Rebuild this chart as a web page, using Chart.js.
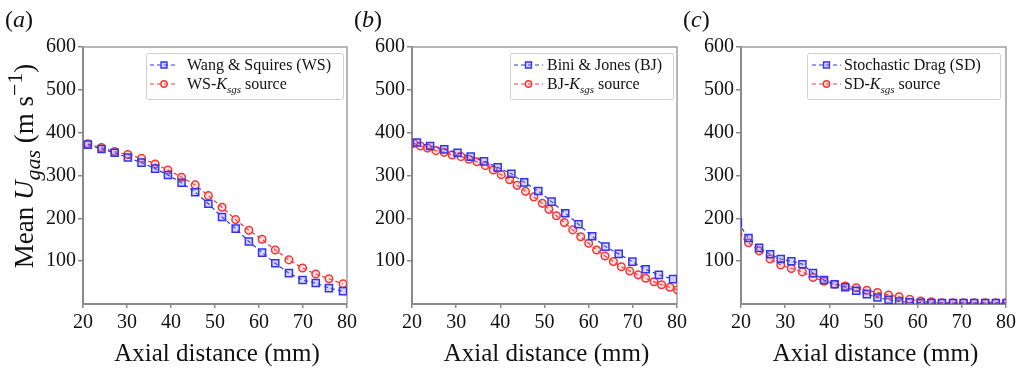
<!DOCTYPE html>
<html><head><meta charset="utf-8">
<script src="https://cdn.jsdelivr.net/npm/chart.js@4/dist/chart.umd.min.js"></script>
<style>
html,body{margin:0;padding:0;background:#fff;}
#wrap{position:relative;width:1022px;height:368px;overflow:hidden;background:#fff;}
canvas{position:absolute;left:0;top:0;width:1022px;height:368px;}
</style></head><body>
<div id="wrap">
<canvas id="ca" width="1022" height="368"></canvas>
<canvas id="cb" width="1022" height="368"></canvas>
<canvas id="cc" width="1022" height="368"></canvas>
</div>
<script>
// ---------- data ----------
const xTicks = [20, 30, 40, 50, 60, 70, 80];
const yTicks = [100, 200, 300, 400, 500, 600];

// panel (a)
const xA     = [21.1, 24.2, 27.2, 30.2, 33.3, 36.4, 39.3, 42.4, 45.5, 48.5, 51.6, 54.7, 57.7, 60.7, 63.7, 66.8, 69.9, 72.9, 75.9, 79.1];
const wsVals = [372, 362, 353, 342, 330, 316, 301, 283, 261, 234, 203, 176, 146, 120, 95, 72, 56, 49, 37, 30];
const wsKVals= [374, 365, 356, 349, 340, 327, 313, 296, 278, 253, 226, 197, 172, 151, 126, 103, 84, 70, 59, 47];

// panel (b)
const xB     = [21.1, 24.1, 27.3, 30.3, 33.3, 36.3, 39.4, 42.5, 45.4, 48.6, 51.6, 54.7, 57.7, 60.8, 63.8, 66.8, 69.9, 72.9, 75.9, 79.1];
const bjVals = [377, 369, 361, 353, 344, 333, 319, 304, 284, 264, 239, 212, 186, 158, 134, 117, 99, 81, 68, 58];
const xBK    = [20.4, 21.9, 23.5, 25.4, 27.3, 29.1, 31.1, 32.9, 34.7, 36.6, 38.4, 40.2, 42.1, 43.8, 45.7, 47.6, 49.5, 51.0, 52.7, 54.5, 56.4, 58.2, 60.0, 61.8, 63.7, 65.6, 67.4, 69.3, 71.2, 72.9, 74.8, 76.5, 78.4, 80.1];
const bjKVals= [375, 369, 364, 358, 354, 348, 344, 338, 332, 323, 313, 302, 290, 277, 263, 250, 235, 221, 206, 190, 173, 157, 142, 126, 112, 99, 87, 77, 68, 60, 52, 45, 39, 33];

// panel (c)
const xC     = [19.3, 21.7, 24.1, 26.6, 29.0, 31.4, 33.9, 36.3, 38.8, 41.2, 43.6, 46.1, 48.5, 50.9, 53.4, 55.8, 58.2, 60.7, 63.1, 65.5, 68.0, 70.4, 72.8, 75.3, 77.7, 80.1];
const sdVals = [190, 154, 131, 116, 105, 100, 93, 72, 56, 46, 39, 31, 23, 15, 10, 6, 4, 3, 2, 2, 2, 2, 2, 2, 2, 2];
const sdKVals= [163, 143, 124, 105, 91, 83, 75, 62, 53, 46, 42, 38, 32, 27, 21, 17, 11, 7, 5, 3, 3, 3, 3, 3, 3, 3];

// ---------- styles ----------
const SERIF = '"Liberation Serif", "Times New Roman", serif';
const BLUE = '#3434f0', BLUE_F = 'rgba(110,110,255,0.28)';
const RED  = '#f03838', RED_F  = 'rgba(255,110,110,0.22)';
const blueStyle = {color: BLUE, fill: BLUE_F, pointStyle: 'rect', radius: 5};
const redStyle  = {color: RED,  fill: RED_F,  pointStyle: 'circle', radius: 3.8};

const panels = [
  {id:'ca', left:83, right:347, tag:'a', tagX:5,
   legend:{x0:146, x1:343, lineX0:150, lineX1:178, textX:187},
   series:[
     {x:xA, y:wsVals,  st:blueStyle, label:[{t:'Wang & Squires (WS)'}]},
     {x:xA, y:wsKVals, st:redStyle,  label:[{t:'WS-'},{t:'K',it:true},{t:'sgs',it:true,sub:true},{t:' source'}]}
   ]},
  {id:'cb', left:412, right:677, tag:'b', tagX:354,
   legend:{x0:510, x1:673, lineX0:514, lineX1:543, textX:547},
   series:[
     {x:xB,  y:bjVals,  st:blueStyle, label:[{t:'Bini & Jones (BJ)'}]},
     {x:xBK, y:bjKVals, st:redStyle,  label:[{t:'BJ-'},{t:'K',it:true},{t:'sgs',it:true,sub:true},{t:' source'}]}
   ]},
  {id:'cc', left:741, right:1006, tag:'c', tagX:683,
   legend:{x0:807, x1:1000, lineX0:812, lineX1:841, textX:844},
   series:[
     {x:xC, y:sdVals,  st:blueStyle, label:[{t:'Stochastic Drag (SD)'}]},
     {x:xC, y:sdKVals, st:redStyle,  label:[{t:'SD-'},{t:'K',it:true},{t:'sgs',it:true,sub:true},{t:' source'}]}
   ]}
];

// ---------- helpers ----------
function drawRich(ctx, segs, x, y, size, align, subScale) {
  const sc = subScale || 0.68;
  let w = 0;
  const items = segs.map(s => {
    const small = s.sub || s.sup;
    const fs = small ? Math.round(size * sc) : size;
    const font = (s.it ? 'italic ' : '') + fs + 'px ' + SERIF;
    ctx.font = font;
    const wd = ctx.measureText(s.t).width;
    w += wd;
    return {t: s.t, font, wd, dy: s.sub ? size * 0.27 : (s.sup ? -size * 0.4 : 0)};
  });
  let cx = align === 'center' ? x - w / 2 : x;
  ctx.textAlign = 'left';
  ctx.textBaseline = 'alphabetic';
  items.forEach(it => { ctx.font = it.font; ctx.fillText(it.t, cx, y + it.dy); cx += it.wd; });
}

const YW = 40, XH = 64, TOP = 47;

const decorPlugin = {
  id: 'decor',
  beforeDatasetsDraw(chart, args, opts) {
    const {ctx, chartArea: a} = chart;
    ctx.save();
    ctx.strokeStyle = '#a0a0a0';
    ctx.lineWidth = 1.5;
    ctx.beginPath();
    ctx.moveTo(a.left, a.top); ctx.lineTo(a.right, a.top); ctx.lineTo(a.right, a.bottom);
    ctx.stroke();
    ctx.restore();
  },
  afterDraw(chart, args, opts) {
    const P = opts.panel;
    const ctx = chart.ctx;
    const a = chart.chartArea;
    ctx.save();
    ctx.fillStyle = '#111';
    drawRich(ctx, [{t:'('},{t:P.tag,it:true},{t:')'}], P.tagX, 27, 24, 'left');
    drawRich(ctx, [{t:'Axial distance (mm)'}], (a.left + a.right) / 2 + 2, 361, 25, 'center');
    if (P.tag === 'a') {
      ctx.save();
      ctx.translate(33, 166);
      ctx.rotate(-Math.PI / 2);
      drawRich(ctx, [{t:'Mean '},{t:'U',it:true},{t:'gas',it:true,sub:true},{t:' (m s'},{t:'\u22121',sup:true},{t:')'}], 0, 0, 27, 'center', 0.8);
      ctx.restore();
    }
    const L = P.legend;
    ctx.strokeStyle = '#cfcfcf';
    ctx.lineWidth = 1;
    ctx.fillStyle = '#fff';
    ctx.beginPath();
    ctx.roundRect(L.x0 + 0.5, 53.5, L.x1 - L.x0, 46, 2);
    ctx.fill();
    ctx.stroke();
    const lineY = [65, 84], baseY = [70, 89];
    P.series.forEach((s, i) => {
      ctx.save();
      ctx.strokeStyle = s.st.color;
      ctx.lineWidth = 1.2;
      ctx.setLineDash([4, 3]);
      ctx.beginPath();
      ctx.moveTo(L.lineX0, lineY[i]); ctx.lineTo(L.lineX1, lineY[i]);
      ctx.stroke();
      ctx.setLineDash([]);
      ctx.fillStyle = s.st.fill;
      ctx.strokeStyle = s.st.color;
      ctx.lineWidth = 1.4;
      Chart.helpers.drawPoint(ctx, {pointStyle: s.st.pointStyle, radius: s.st.pointStyle === 'rect' ? 4.2 : 3.2, borderWidth: 1.4, rotation: 0}, (L.lineX0 + L.lineX1) / 2, lineY[i]);
      ctx.restore();
      ctx.fillStyle = '#111';
      drawRich(ctx, s.label, L.textX, baseY[i], 16, 'left');
    });
    ctx.restore();
  }
};

panels.forEach(P => {
  const datasets = P.series.map(s => ({
    data: s.x.map((xv, i) => ({x: xv, y: s.y[i]})),
    borderColor: s.st.color,
    backgroundColor: s.st.fill,
    borderWidth: 1.2,
    borderDash: [4, 3],
    tension: 0,
    fill: false,
    pointStyle: s.st.pointStyle,
    pointRadius: s.st.radius,
    pointBorderWidth: 1.5,
    pointBorderColor: s.st.color,
    pointBackgroundColor: s.st.fill
  }));
  new Chart(document.getElementById(P.id), {
    type: 'line',
    data: {datasets},
    plugins: [decorPlugin],
    options: {
      responsive: false,
      animation: false,
      devicePixelRatio: 1,
      layout: {padding: {left: P.left - YW, right: 1022 - P.right, top: TOP, bottom: 0}},
      plugins: {legend: {display: false}, tooltip: {enabled: false}, decor: {panel: P}},
      scales: {
        x: {
          type: 'linear', min: xTicks[0], max: xTicks[xTicks.length - 1],
          afterBuildTicks: s => { s.ticks = xTicks.map(v => ({value: v})); },
          ticks: {font: {family: SERIF, size: 20}, color: '#111', padding: 3, maxRotation: 0, autoSkip: false},
          grid: {display: true, drawOnChartArea: false, drawTicks: true, tickLength: 4, color: '#888', lineWidth: 1.5},
          border: {display: true, color: '#8a8a8a', width: 2},
          afterFit: s => { s.height = XH; }
        },
        y: {
          type: 'linear', min: 0, max: 600,
          afterBuildTicks: s => { s.ticks = yTicks.map(v => ({value: v})); },
          ticks: {font: {family: SERIF, size: 20}, color: '#111', padding: 2, autoSkip: false},
          grid: {display: true, drawOnChartArea: false, drawTicks: true, tickLength: 5, color: '#888', lineWidth: 1.5},
          border: {display: true, color: '#8a8a8a', width: 2},
          afterFit: s => { s.width = YW; }
        }
      }
    }
  });
});
</script>
</body></html>
